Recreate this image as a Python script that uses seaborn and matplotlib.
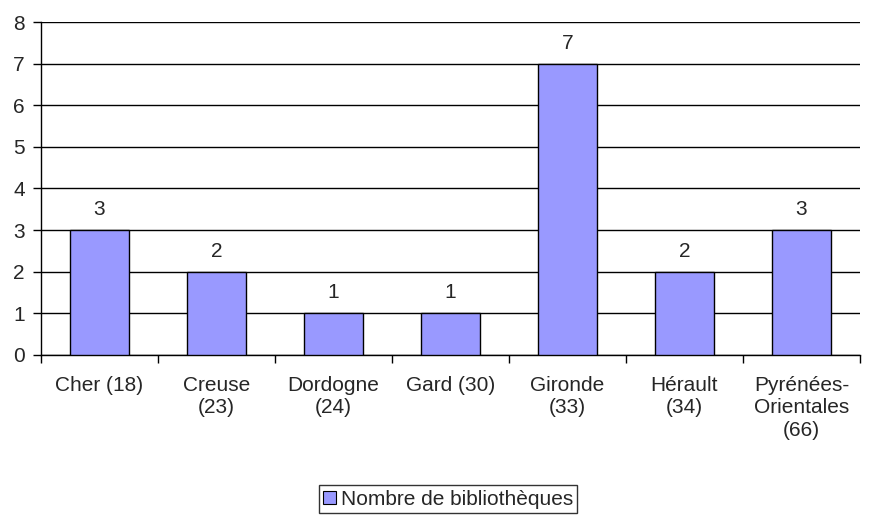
import numpy as np
import pandas as pd
import seaborn as sns
import matplotlib.pyplot as plt
from matplotlib.patches import Patch

# data
departements = ["Cher (18)", "Creuse\n(23)", "Dordogne\n(24)", "Gard (30)",
                "Gironde\n(33)", "Hérault\n(34)", "Pyrénées-\nOrientales\n(66)"]
nb_biblio = [3, 2, 1, 1, 7, 2, 3]
serie = "Nombre de bibliothèques"

df = pd.DataFrame({"dep": departements, "n": nb_biblio})

sns.set_style("white")
plt.rcParams['font.family'] = ['Liberation Sans', 'DejaVu Sans']
fs = 15

fig = plt.figure(figsize=(8.7, 5.15), dpi=100)
ax = fig.add_axes([0.047, 0.311, 0.9415, 0.646])

sns.barplot(data=df, x="dep", y="n", color="#9999FF", width=0.5,
            edgecolor="black", linewidth=1, saturation=1, ax=ax, zorder=3)

ax.set_ylim(0, 8)
ax.set_xlim(-0.5, len(departements) - 0.5)
ax.set_yticks(range(0, 9))
ax.yaxis.grid(True, color="black", linewidth=1, zorder=0)
ax.set_axisbelow(True)

# value labels above bars
for i, v in enumerate(nb_biblio):
    ax.text(i, v + 0.36, str(v), ha="center", va="baseline", fontsize=fs)

ax.set_xlabel("")
ax.set_ylabel("")
ax.tick_params(axis="y", labelsize=fs, length=5.5, width=1, color="black", left=True, pad=6)
# ticks between categories
ax.set_xticks(np.arange(len(departements)))
ax.set_xticklabels(departements, fontsize=fs, linespacing=1.25)
ax.tick_params(axis="x", which="major", length=0, pad=15)
ax.set_xticks(np.arange(-0.5, len(departements), 1), minor=True)
ax.tick_params(axis="x", which="minor", length=6, width=1, color="black", bottom=True)

for s in ["top", "right"]:
    ax.spines[s].set_visible(False)
for s in ["left", "bottom"]:
    ax.spines[s].set_color("black")
    ax.spines[s].set_linewidth(1)

handle = Patch(facecolor="#9999FF", edgecolor="black", linewidth=0.8)
leg = fig.legend([handle], [serie], loc="center", bbox_to_anchor=(0.515, 0.031),
                 fontsize=fs, frameon=True, fancybox=False, edgecolor="black",
                 handlelength=0.6, handleheight=0.6, handletextpad=0.25,
                 borderpad=0.2, borderaxespad=0)
leg.get_frame().set_linewidth(1)

fig.savefig("out.png", dpi=100)
